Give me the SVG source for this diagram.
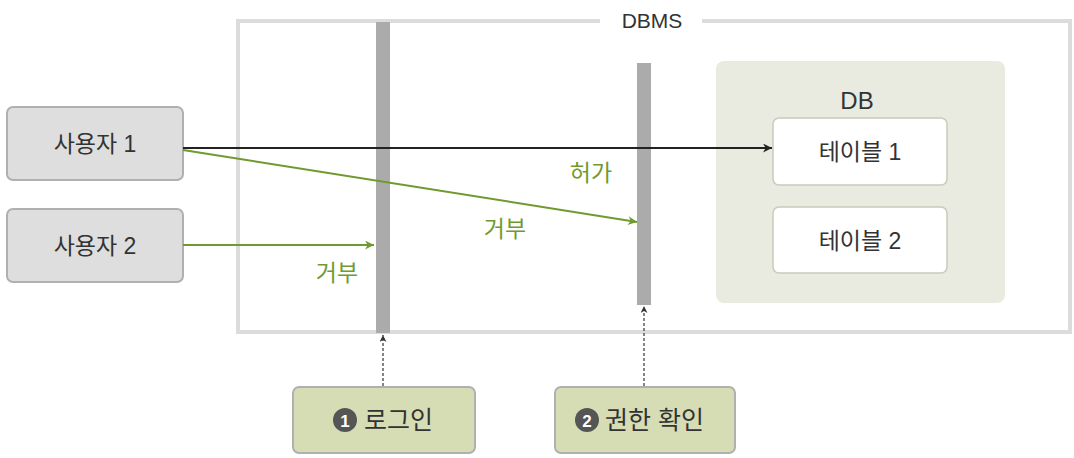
<svg xmlns="http://www.w3.org/2000/svg" width="1074" height="458" viewBox="0 0 1074 458">
<style>
text{font-family:"Liberation Sans","Noto Sans CJK KR",sans-serif;fill:#333;}
.user{fill:#dedede;stroke:#b0b0b0;stroke-width:2;}
.table{fill:#fff;stroke:#c8ccb8;stroke-width:1.5;}
.step{fill:#d6ddb5;stroke:#b0b0b0;stroke-width:2;}
.lbl{font-size:23px;text-anchor:middle;}
.green{fill:#6f9a2f;font-size:23px;text-anchor:middle;}
.bar{fill:#ababab;}
</style>
<defs>
<marker id="ab" viewBox="0 0 10 10" refX="10" refY="5" markerWidth="12" markerHeight="9" markerUnits="userSpaceOnUse" orient="auto"><path d="M0,0 L10,5 L0,10 L3,5 z" fill="#222"/></marker>
<marker id="ag" viewBox="0 0 10 10" refX="10" refY="5" markerWidth="12" markerHeight="9" markerUnits="userSpaceOnUse" orient="auto"><path d="M0,0 L10,5 L0,10 L3,5 z" fill="#6f9a2f"/></marker>
<marker id="ad" viewBox="0 0 10 10" refX="10" refY="5" markerWidth="9" markerHeight="7" markerUnits="userSpaceOnUse" orient="auto"><path d="M0,0 L10,5 L0,10 L3,5 z" fill="#333"/></marker>
</defs>
<g id="dbms">
<path d="M600,21 H238 V332 H1070 V21 H702" fill="none" stroke="#dcdcdc" stroke-width="4"/>
<text x="652" y="28" font-size="21" text-anchor="middle">DBMS</text>
</g>
<g id="bar-login"><rect class="bar" x="376" y="22" width="14" height="311"/></g>
<g id="bar-auth"><rect class="bar" x="637" y="63" width="14" height="242"/></g>
<g id="db">
<rect x="716" y="61" width="289" height="242" rx="8" fill="#e9ebe1"/>
<text x="857" y="109" font-size="24" text-anchor="middle">DB</text>
</g>
<g id="table1"><rect class="table" x="773" y="118" width="174" height="67" rx="6"/><text class="lbl" x="860" y="160">테이블 1</text></g>
<g id="table2"><rect class="table" x="773" y="207" width="174" height="66" rx="6"/><text class="lbl" x="860" y="249">테이블 2</text></g>
<g id="user1"><rect class="user" x="7" y="107" width="176" height="73" rx="6"/><text class="lbl" x="95" y="152">사용자 1</text></g>
<g id="user2"><rect class="user" x="7" y="209" width="176" height="73" rx="6"/><text class="lbl" x="95" y="254">사용자 2</text></g>
<g id="step1"><rect class="step" x="293" y="387" width="182" height="66" rx="6"/>
<circle cx="345" cy="420" r="12" fill="#555"/><text x="345" y="427" font-size="17" font-weight="bold" text-anchor="middle" style="fill:#fff">1</text>
<text x="364" y="429" font-size="25">로그인</text></g>
<g id="step2"><rect class="step" x="555" y="387" width="180" height="66" rx="6"/>
<circle cx="587" cy="420" r="12" fill="#555"/><text x="587" y="427" font-size="17" font-weight="bold" text-anchor="middle" style="fill:#fff">2</text>
<text x="605" y="429" font-size="25">권한 확인</text></g>
<g id="connectors">
<line x1="183" y1="148" x2="772" y2="148" stroke="#222" stroke-width="2" marker-end="url(#ab)"/>
<line x1="183" y1="150" x2="637" y2="222" stroke="#6f9a2f" stroke-width="2" marker-end="url(#ag)"/>
<line x1="183" y1="245" x2="374" y2="245" stroke="#6f9a2f" stroke-width="2" marker-end="url(#ag)"/>
<line x1="383" y1="386" x2="383" y2="335" stroke="#333" stroke-width="1.2" stroke-dasharray="3,2" marker-end="url(#ad)"/>
<line x1="644" y1="386" x2="644" y2="306" stroke="#333" stroke-width="1.2" stroke-dasharray="3,2" marker-end="url(#ad)"/>
<text class="green" x="591" y="181">허가</text>
<text class="green" x="505" y="237">거부</text>
<text class="green" x="337" y="281">거부</text>
</g>
</svg>
